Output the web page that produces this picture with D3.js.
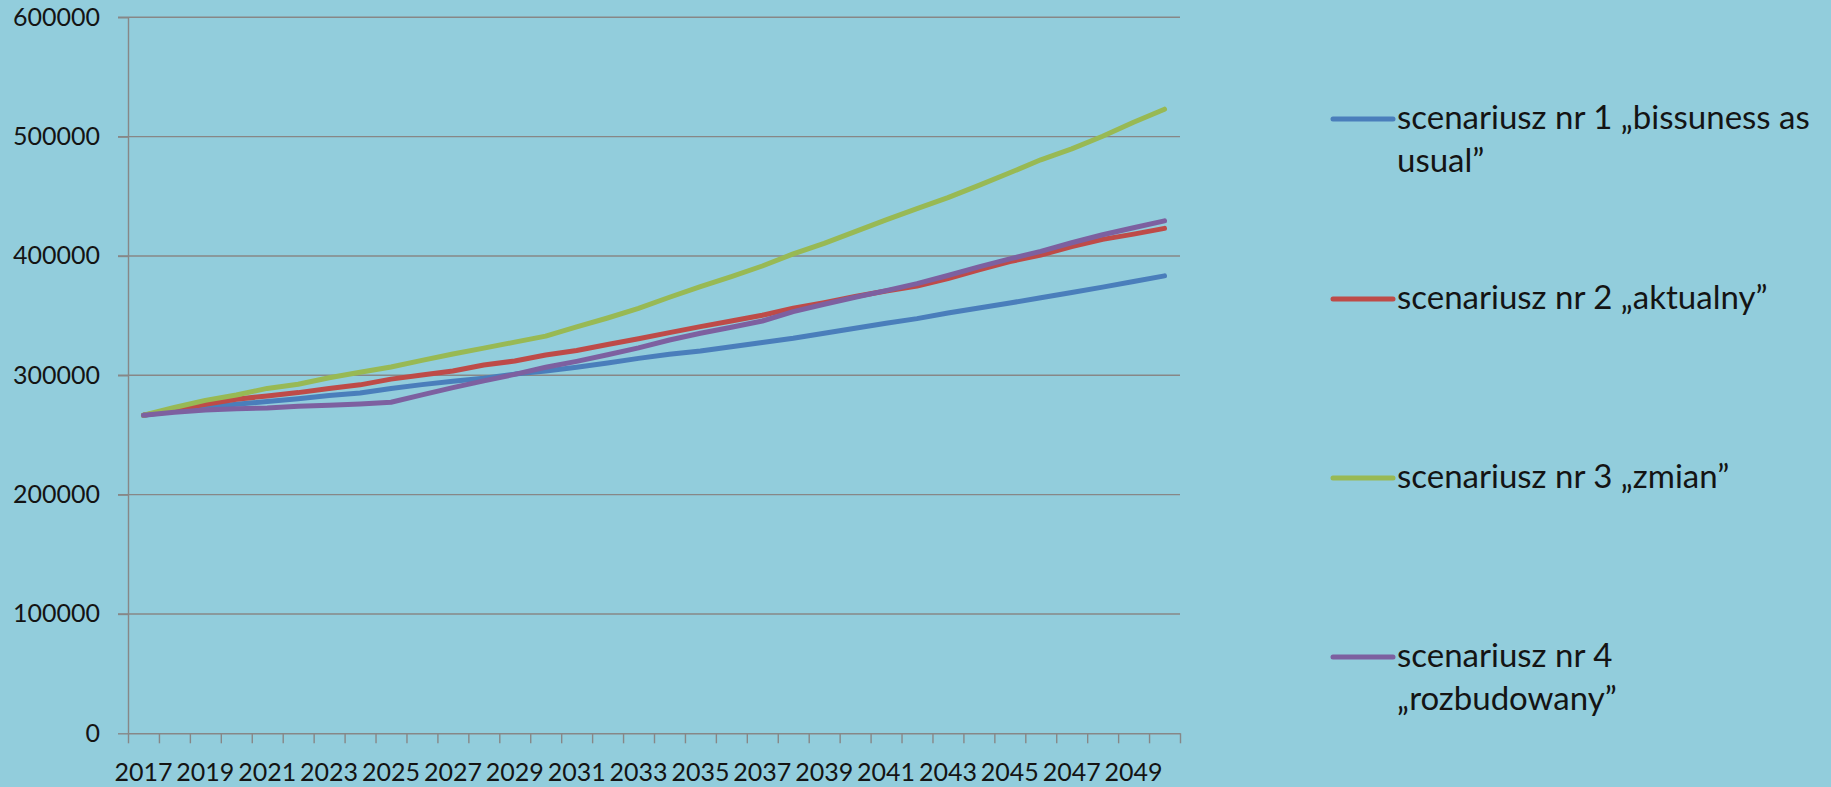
<!DOCTYPE html>
<html>
<head>
<meta charset="utf-8">
<script src="https://cdn.jsdelivr.net/npm/d3@7"></script>
<style>
  html, body { margin: 0; padding: 0; background: #92CDDC; }
  svg { display: block; }
  text { font-family: Lato, "Open Sans", sans-serif; fill: #141414; }
</style>
</head>
<body>
<svg id="chart" width="1831" height="787"></svg>
<script>
// Years on the category axis
const years = d3.range(2017, 2051);

// Series names (legend text)
const seriesNames = [
  "scenariusz nr 1 \u201Ebissuness as usual\u201D",
  "scenariusz nr 2 \u201Eaktualny\u201D",
  "scenariusz nr 3 \u201Ezmian\u201D",
  "scenariusz nr 4 \u201Erozbudowany\u201D"
];

const seriesColors = ["#4A7EBB", "#BE4B48", "#98B954", "#7D60A0"];

// Series values, one per year 2017–2050
const scenario1 = [266500, 270000, 273000, 275700, 278000, 280400, 283000, 285200, 289000, 292200,
  295000, 297500, 301000, 303600, 306700, 310300, 314200, 317600, 320400, 324000,
  327400, 331000, 335200, 339400, 343600, 347500, 352200, 356400, 360600, 365000,
  369400, 373900, 378600, 383300];
const scenario2 = [266500, 271000, 275700, 280000, 282700, 285500, 289000, 292000, 296800, 300300,
  303600, 308600, 312000, 317000, 320800, 325800, 330600, 335800, 340800, 345500,
  350300, 356200, 360900, 366000, 370700, 374800, 381000, 388300, 395300, 400800,
  407800, 413900, 418300, 423100];
const scenario3 = [266500, 273000, 279000, 283500, 289000, 292500, 298000, 302500, 307000, 312500,
  317800, 322800, 327800, 332800, 340600, 348000, 356000, 365400, 374300, 382700,
  391600, 401700, 410600, 420400, 430200, 439600, 448900, 459200, 469700, 480600,
  489700, 500300, 512000, 523000];
const scenario4 = [266500, 269000, 271000, 272000, 272600, 274000, 275000, 276000, 277400, 283600,
  289700, 295300, 300800, 306700, 311700, 317200, 323000, 329600, 335200, 340200,
  345500, 353400, 359500, 365400, 371000, 376800, 383600, 390800, 397500, 403900,
  411100, 417800, 423600, 429400];

// Value-axis ticks
const yTicks = [0, 100000, 200000, 300000, 400000, 500000, 600000];

const seriesValues = [scenario1, scenario2, scenario3, scenario4];

const svg = d3.select("#chart");

const plot = { left: 128, right: 1180, top: 17.3, bottom: 733.3 };

const x = d3.scaleBand()
  .domain(years)
  .range([plot.left, plot.right])
  .paddingInner(0)
  .paddingOuter(0);

const y = d3.scaleLinear()
  .domain([0, 600000])
  .range([plot.bottom, plot.top]);

const gridColor = "#878787";

// Horizontal gridlines
svg.append("g")
  .selectAll("line")
  .data(yTicks.filter(d => d > 0))
  .join("line")
  .attr("x1", plot.left - 10)
  .attr("x2", plot.right)
  .attr("y1", d => y(d))
  .attr("y2", d => y(d))
  .attr("stroke", gridColor)
  .attr("stroke-width", 1.4);

// Value axis
const yAxis = svg.append("g")
  .attr("transform", `translate(${plot.left},0)`)
  .call(d3.axisLeft(y).tickValues(yTicks).tickFormat(d3.format("d"))
    .tickSize(10).tickSizeOuter(0).tickPadding(18));
yAxis.select(".domain").attr("stroke", gridColor).attr("stroke-width", 1.4);
yAxis.selectAll(".tick line").attr("stroke", gridColor).attr("stroke-width", 1.4);
yAxis.selectAll("text").attr("font-size", 25).attr("font-family", "Lato").attr("fill", "#141414");

// Category axis: tick marks between categories
const boundary = d3.scaleLinear().domain([0, years.length]).range([plot.left, plot.right]);
const xTickAxis = svg.append("g")
  .attr("transform", `translate(0,${plot.bottom})`)
  .call(d3.axisBottom(boundary).tickValues(d3.range(years.length + 1))
    .tickFormat("").tickSize(10).tickSizeOuter(0));
xTickAxis.select(".domain").attr("stroke", gridColor).attr("stroke-width", 1.4);
xTickAxis.selectAll(".tick line").attr("stroke", gridColor).attr("stroke-width", 1.4);

// Category axis labels: every second year
const xLabelAxis = svg.append("g")
  .attr("transform", `translate(0,${plot.bottom})`)
  .call(d3.axisBottom(x).tickValues(years.filter((d, i) => i % 2 === 0))
    .tickSize(0).tickPadding(30));
xLabelAxis.select(".domain").remove();
xLabelAxis.selectAll("text").attr("font-size", 25).attr("font-family", "Lato").attr("fill", "#141414");

// Series lines
const line = d3.line()
  .x((d, i) => x(years[i]) + x.bandwidth() / 2)
  .y(d => y(d));

svg.append("g")
  .selectAll("path")
  .data(seriesValues)
  .join("path")
  .attr("d", d => line(d))
  .attr("fill", "none")
  .attr("stroke", (d, i) => seriesColors[i])
  .attr("stroke-width", 5)
  .attr("stroke-linejoin", "round")
  .attr("stroke-linecap", "round");

// Legend
const legendX = 1333, legendTextX = 1397, legendWrap = 428, lineHeight = 43;
const legendBaselines = [129, 309, 488, 667];
const legendFontSize = 33;

const legend = svg.append("g");
seriesNames.forEach((name, i) => {
  const g = legend.append("g");
  g.append("line")
    .attr("x1", legendX).attr("x2", legendX + 60)
    .attr("y1", legendBaselines[i] - 10).attr("y2", legendBaselines[i] - 10)
    .attr("stroke", seriesColors[i])
    .attr("stroke-width", 5)
    .attr("stroke-linecap", "round");

  const t = g.append("text")
    .attr("x", legendTextX)
    .attr("y", legendBaselines[i])
    .attr("font-size", legendFontSize);

  // word-wrap the legend label into lines no wider than legendWrap
  const words = name.split(" ");
  let current = [];
  let tspan = t.append("tspan").attr("x", legendTextX).attr("dy", 0);
  words.forEach(w => {
    current.push(w);
    tspan.text(current.join(" "));
    if (tspan.node().getComputedTextLength() > legendWrap && current.length > 1) {
      current.pop();
      tspan.text(current.join(" "));
      current = [w];
      tspan = t.append("tspan").attr("x", legendTextX).attr("dy", lineHeight).text(w);
    }
  });
});
</script>
</body>
</html>
